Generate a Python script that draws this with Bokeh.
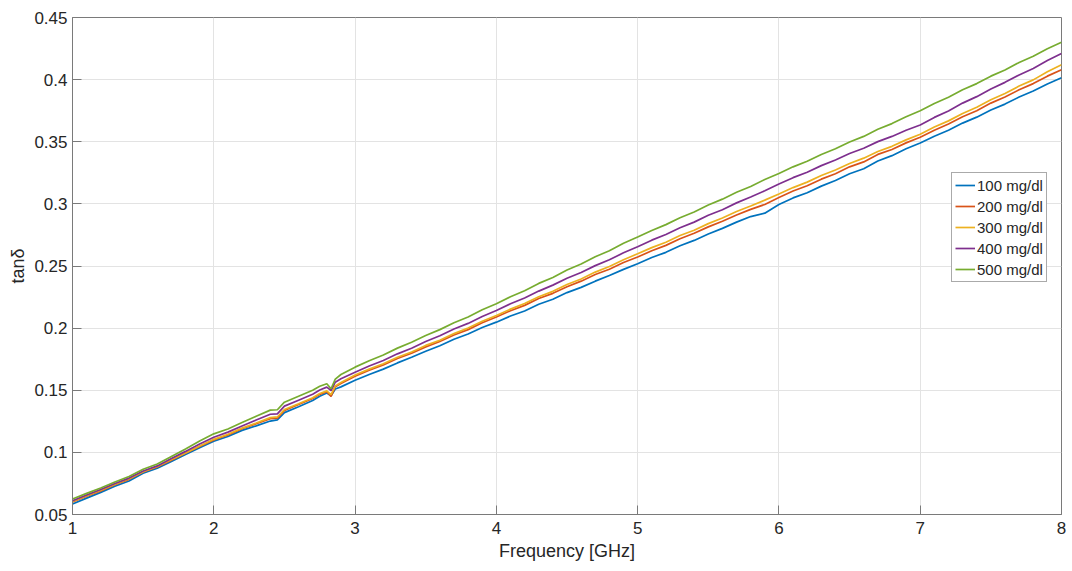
from bokeh.plotting import figure
from bokeh.models import (Range1d, FixedTicker, LinearAxis, Legend, LegendItem, ColumnDataSource, Grid)
from bokeh.embed import file_html
from bokeh.resources import INLINE

freq = [1.0, 1.1, 1.2, 1.3, 1.4, 1.5, 1.6, 1.7, 1.8, 1.9, 2.0, 2.1, 2.2, 2.3, 2.4,
        2.45, 2.5, 2.6, 2.7, 2.75, 2.8, 2.83, 2.86, 2.9,
        3.0, 3.1, 3.2, 3.3, 3.4, 3.5, 3.6, 3.7, 3.8, 3.9,
        4.0, 4.1, 4.2, 4.3, 4.4, 4.5, 4.6, 4.7, 4.8, 4.9,
        5.0, 5.1, 5.2, 5.3, 5.4, 5.5, 5.6, 5.7, 5.8, 5.9,
        6.0, 6.1, 6.2, 6.3, 6.4, 6.5, 6.6, 6.7, 6.8, 6.9,
        7.0, 7.1, 7.2, 7.3, 7.4, 7.5, 7.6, 7.7, 7.8, 7.9, 8.0]

tan_100 = [0.0585, 0.0632, 0.0678, 0.0727, 0.0770, 0.0832, 0.0873, 0.0927, 0.0983, 0.1037,
           0.1090, 0.1128, 0.1177, 0.1213, 0.1252,
           0.1262, 0.1320, 0.1367, 0.1418, 0.1452, 0.1478, 0.1455, 0.1510, 0.1527,
           0.1580, 0.1627, 0.1670, 0.1720, 0.1765, 0.1814, 0.1858, 0.1910, 0.1953, 0.2005,
           0.2048, 0.2097, 0.2138, 0.2192, 0.2233, 0.2286, 0.2328, 0.2378, 0.2423, 0.2473,
           0.2518, 0.2568, 0.2610, 0.2663, 0.2706, 0.2758, 0.2803, 0.2853, 0.2898, 0.2925,
           0.2995, 0.3048, 0.3090, 0.3143, 0.3188, 0.3243, 0.3283, 0.3345, 0.3388, 0.3443,
           0.3490, 0.3545, 0.3593, 0.3650, 0.3698, 0.3755, 0.3803, 0.3860, 0.3908, 0.3965, 0.4015]

tan_200 = [0.0600, 0.0647, 0.0690, 0.0740, 0.0783, 0.0842, 0.0883, 0.0937, 0.0993, 0.1047,
           0.1100, 0.1140, 0.1190, 0.1230, 0.1272,
           0.1275, 0.1338, 0.1385, 0.1433, 0.1467, 0.1488, 0.1450, 0.1528, 0.1554,
           0.1612, 0.1662, 0.1704, 0.1755, 0.1798, 0.1849, 0.1893, 0.1945, 0.1988, 0.2043,
           0.2090, 0.2140, 0.2183, 0.2238, 0.2280, 0.2333, 0.2378, 0.2431, 0.2474, 0.2528,
           0.2572, 0.2623, 0.2666, 0.2719, 0.2763, 0.2815, 0.2860, 0.2911, 0.2956, 0.2995,
           0.3052, 0.3103, 0.3146, 0.3199, 0.3243, 0.3298, 0.3338, 0.3398, 0.3438, 0.3491,
           0.3536, 0.3593, 0.3643, 0.3701, 0.3750, 0.3811, 0.3860, 0.3918, 0.3968, 0.4028, 0.4080]

tan_300 = [0.0605, 0.0652, 0.0696, 0.0744, 0.0788, 0.0844, 0.0886, 0.0942, 0.0996, 0.1052,
           0.1105, 0.1146, 0.1195, 0.1236, 0.1280,
           0.1285, 0.1345, 0.1392, 0.1440, 0.1474, 0.1495, 0.1465, 0.1535, 0.1562,
           0.1622, 0.1670, 0.1713, 0.1765, 0.1808, 0.1861, 0.1903, 0.1956, 0.2001, 0.2055,
           0.2102, 0.2153, 0.2198, 0.2253, 0.2296, 0.2351, 0.2396, 0.2451, 0.2496, 0.2551,
           0.2598, 0.2648, 0.2691, 0.2745, 0.2788, 0.2841, 0.2886, 0.2939, 0.2983, 0.3030,
           0.3080, 0.3131, 0.3175, 0.3228, 0.3273, 0.3325, 0.3368, 0.3421, 0.3463, 0.3515,
           0.3560, 0.3618, 0.3668, 0.3728, 0.3778, 0.3838, 0.3888, 0.3948, 0.3998, 0.4063, 0.4120]

tan_400 = [0.0610, 0.0657, 0.0701, 0.0750, 0.0793, 0.0850, 0.0891, 0.0950, 0.1008, 0.1067,
           0.1122, 0.1163, 0.1212, 0.1260, 0.1307,
           0.1310, 0.1372, 0.1420, 0.1468, 0.1502, 0.1525, 0.1498, 0.1565, 0.1592,
           0.1645, 0.1695, 0.1740, 0.1793, 0.1838, 0.1893, 0.1938, 0.1993, 0.2038, 0.2093,
           0.2142, 0.2196, 0.2243, 0.2298, 0.2346, 0.2401, 0.2448, 0.2503, 0.2550, 0.2606,
           0.2655, 0.2708, 0.2753, 0.2808, 0.2853, 0.2908, 0.2953, 0.3008, 0.3056, 0.3105,
           0.3160, 0.3211, 0.3255, 0.3308, 0.3353, 0.3405, 0.3448, 0.3501, 0.3543, 0.3593,
           0.3635, 0.3696, 0.3748, 0.3811, 0.3863, 0.3925, 0.3978, 0.4038, 0.4090, 0.4153, 0.4210]

tan_500 = [0.0625, 0.0670, 0.0713, 0.0762, 0.0806, 0.0864, 0.0906, 0.0967, 0.1028, 0.1092,
           0.1149, 0.1188, 0.1240, 0.1290, 0.1340,
           0.1343, 0.1404, 0.1452, 0.1500, 0.1532, 0.1552, 0.1512, 0.1590, 0.1627,
           0.1686, 0.1738, 0.1784, 0.1839, 0.1886, 0.1941, 0.1988, 0.2043, 0.2090, 0.2148,
           0.2196, 0.2253, 0.2301, 0.2360, 0.2408, 0.2468, 0.2516, 0.2575, 0.2623, 0.2683,
           0.2733, 0.2786, 0.2833, 0.2888, 0.2935, 0.2991, 0.3038, 0.3093, 0.3140, 0.3196,
           0.3245, 0.3298, 0.3343, 0.3398, 0.3443, 0.3498, 0.3543, 0.3600, 0.3646, 0.3701,
           0.3750, 0.3808, 0.3858, 0.3918, 0.3968, 0.4028, 0.4078, 0.4138, 0.4188, 0.4248, 0.4300]

series_labels = ["100 mg/dl", "200 mg/dl", "300 mg/dl", "400 mg/dl", "500 mg/dl"]
series_colors = ["#0072BD", "#D95319", "#EDB120", "#7E2F8E", "#77AC30"]

x_ticks = [1, 2, 3, 4, 5, 6, 7, 8]
y_ticks = [0.05, 0.1, 0.15, 0.2, 0.25, 0.3, 0.35, 0.4, 0.45]
y_tick_labels = ["0.05", "0.1", "0.15", "0.2", "0.25", "0.3", "0.35", "0.4", "0.45"]

FONT = "Liberation Sans"
TXT = "#262626"
AX = "#7a7a7a"

p = figure(width=1070, height=569, output_backend="svg", toolbar_location=None,
           x_range=Range1d(1, 8), y_range=Range1d(0.05, 0.45),
           min_border_left=72, min_border_right=9, min_border_top=17, min_border_bottom=55)
p.xaxis.visible = False
p.yaxis.visible = False
p.xgrid.visible = False
p.ygrid.visible = False
p.outline_line_color = AX
p.outline_line_width = 1
p.background_fill_color = "white"
p.border_fill_color = "white"

xb = LinearAxis(ticker=FixedTicker(ticks=x_ticks), axis_label="Frequency [GHz]")
yl = LinearAxis(ticker=FixedTicker(ticks=y_ticks), axis_label="tanδ")
yl.major_label_overrides = {t: s for t, s in zip(y_ticks, y_tick_labels)}
for ax in (xb, yl):
    ax.axis_line_color = AX
    ax.major_tick_line_color = AX
    ax.major_tick_in = 9
    ax.major_tick_out = 0
    ax.minor_tick_line_color = None
    ax.major_label_text_font = FONT
    ax.major_label_text_font_size = "17px"
    ax.major_label_text_color = TXT
    ax.axis_label_text_font = FONT
    ax.axis_label_text_font_size = "18px"
    ax.axis_label_text_font_style = "normal"
    ax.axis_label_text_color = TXT
xb.major_label_standoff = 7
xb.axis_label_standoff = 4
yl.major_label_standoff = 5
yl.axis_label_standoff = 3
p.add_layout(xb, "below")
p.add_layout(yl, "left")

p.add_layout(Grid(dimension=0, ticker=xb.ticker, grid_line_color="#e3e3e3"))
p.add_layout(Grid(dimension=1, ticker=yl.ticker, grid_line_color="#e3e3e3"))

all_series = [tan_100, tan_200, tan_300, tan_400, tan_500]
items = []
for vals, lab, col in zip(all_series, series_labels, series_colors):
    src = ColumnDataSource(dict(x=freq, y=vals))
    r = p.line("x", "y", source=src, line_color=col, line_width=1.7)
    items.append(LegendItem(label=lab, renderers=[r]))

legend = Legend(items=items, location=(879, 232))
legend.label_text_font = FONT
legend.label_text_font_size = "15px"
legend.label_text_color = TXT
legend.border_line_color = "#555555"
legend.border_line_width = 1
legend.background_fill_color = "white"
legend.background_fill_alpha = 1
legend.glyph_width = 20
legend.glyph_height = 18
legend.label_height = 18
legend.label_standoff = 2
legend.spacing = 3
legend.padding = 3
legend.margin = 0
p.add_layout(legend, "center")

open("out.html", "w").write(file_html(p, INLINE))
